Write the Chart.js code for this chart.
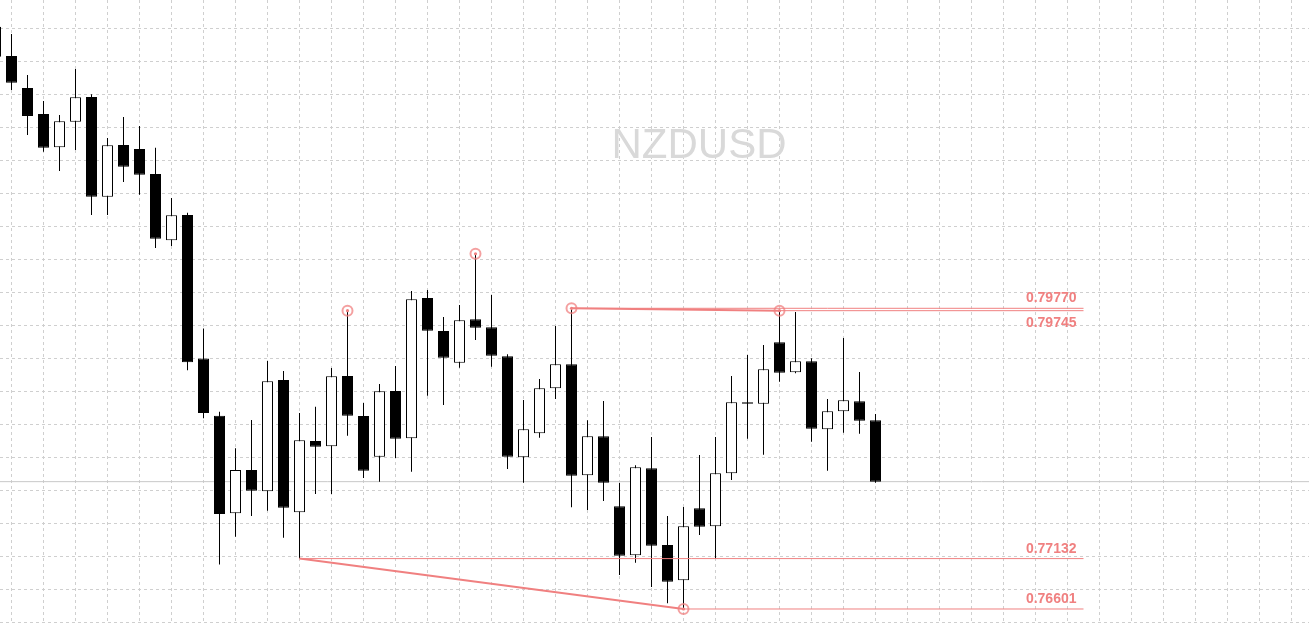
<!DOCTYPE html>
<html>
<head>
<meta charset="utf-8">
<script src="https://cdn.jsdelivr.net/npm/chart.js@4.4.1/dist/chart.umd.min.js"></script>
<style>
  html, body { margin: 0; padding: 0; background: #ffffff; overflow: hidden; }
  #wrap { position: relative; width: 1309px; height: 623px; }
</style>
</head>
<body>
<div id="wrap"><canvas id="c"></canvas></div>
<script>
// ---- Data (NZDUSD candles) ----
const candleIndex = [0,1,2,3,4,5,6,7,8,9,10,11,12,13,14,15,16,17,18,19,20,21,22,23,24,25,26,27,
  28,29,30,31,32,33,34,35,36,37,38,39,40,41,42,43,44,45,46,47,48,49,50,51,52,53,54,55];
const openPrices = [0.82738,0.82429,0.82092,0.81818,0.81467,0.81737,0.81997,0.80946,0.81491,0.81449,
  0.81185,0.80487,0.80753,0.79242,0.78637,0.77610,0.78066,0.77841,0.79014,0.77620,
  0.78372,0.78316,0.79057,0.78635,0.78206,0.78898,0.78400,0.79879,0.79531,0.79197,
  0.79654,0.79570,0.79264,0.78200,0.78453,0.78927,0.79180,0.78010,0.78421,0.77683,
  0.77167,0.78084,0.77275,0.76903,0.77662,0.77473,0.78031,0.78779,0.78765,0.79412,
  0.79096,0.79211,0.78495,0.78685,0.78790,0.78590];
const highPrices = [0.82808,0.82661,0.82229,0.81955,0.81807,0.82292,0.82025,0.81565,0.81786,0.81691,
  0.81463,0.80932,0.80778,0.79556,0.78681,0.78295,0.78593,0.79215,0.79109,0.78667,
  0.78733,0.79141,0.79745,0.78772,0.78972,0.79162,0.79952,0.79963,0.79678,0.79805,
  0.80345,0.79910,0.79285,0.78804,0.79025,0.79584,0.79770,0.78590,0.78793,0.77929,
  0.78115,0.78414,0.77581,0.77676,0.78224,0.78414,0.79057,0.79278,0.79383,0.79745,
  0.79731,0.79243,0.78814,0.79457,0.79099,0.78656];
const lowPrices = [0.82387,0.82071,0.81596,0.81420,0.81217,0.81438,0.80753,0.80753,0.81101,0.80967,
  0.80406,0.80427,0.79117,0.78612,0.77070,0.77363,0.77581,0.77637,0.77352,0.77132,
  0.77813,0.77813,0.78427,0.77982,0.77943,0.78192,0.78048,0.78849,0.78751,0.79144,
  0.79436,0.79155,0.78076,0.77932,0.78406,0.78814,0.77673,0.77644,0.77739,0.76959,
  0.77089,0.76833,0.76661,0.76601,0.77381,0.77130,0.77960,0.78396,0.78227,0.78996,
  0.79085,0.78364,0.78059,0.78459,0.78448,0.77932];
const closePrices = [0.82422,0.82148,0.81797,0.81463,0.81741,0.81994,0.80946,0.81488,0.81262,0.81178,
  0.80504,0.80750,0.79202,0.78667,0.77602,0.78066,0.77848,0.79001,0.77669,0.78379,
  0.78311,0.79053,0.78638,0.78059,0.78895,0.78396,0.79865,0.79534,0.79249,0.79644,
  0.79566,0.79271,0.78206,0.78495,0.78927,0.79180,0.78006,0.78421,0.77932,0.77163,
  0.78094,0.77268,0.76889,0.77473,0.77468,0.78031,0.78779,0.78765,0.79127,0.79091,
  0.79211,0.78501,0.78685,0.78800,0.78585,0.77943];

const symbolName = "NZDUSD";
const bidPrice = 0.77943;

// horizontal levels with their start candle and label
const levelPrices = [0.79770, 0.79745, 0.77132, 0.76601];
const levelStartIndex = [36, 49, 19, 43];
const levelLabels = ["0.79770", "0.79745", "0.77132", "0.76601"];
const levelLabelBelow = [false, true, false, false];
const levelEndIndex = 68;

// trend lines (pairs of candle index / price)
const resistanceIdx = [36, 49];
const resistancePrice = [0.79770, 0.79745];
const supportIdx = [19, 43];
const supportPrice = [0.77132, 0.76601];

// pivot markers
const pivotIdx = [22, 30, 36, 49, 43];
const pivotPrice = [0.79745, 0.80345, 0.79770, 0.79745, 0.76601];

// ---- axis ranges ----
const X_MIN = 0.28125, X_MAX = 0.28125 + 1309 / 16;
const Y_MAX = 0.830192, Y_MIN = 0.764534;
const GRID_Y_START = 0.827210, GRID_Y_STEP = 0.0034779;

const RED = '#f08080';

const wickData = candleIndex.map((x, i) => ({ x: x, y: [lowPrices[i], highPrices[i]] }));
const bodyData = candleIndex.map((x, i) => ({ x: x, y: [openPrices[i], closePrices[i]] }));

const datasets = [];
// bid line
datasets.push({
  type: 'line', order: 6,
  data: [{ x: X_MIN, y: bidPrice }, { x: X_MAX, y: bidPrice }],
  borderColor: '#c8c8c8', borderWidth: 1, pointRadius: 0, fill: false
});
// wicks
datasets.push({
  type: 'bar', order: 5, grouped: false,
  data: wickData, barThickness: 1, backgroundColor: '#000000',
  borderWidth: 0, inflateAmount: 0
});
// bodies
datasets.push({
  type: 'bar', order: 4, grouped: false,
  data: bodyData, barThickness: 11,
  backgroundColor: (ctx) => {
    const i = ctx.dataIndex;
    return closePrices[i] > openPrices[i] ? '#ffffff' : '#000000';
  },
  borderColor: '#000000', borderWidth: 1, borderSkipped: false, inflateAmount: 0
});
// level lines
levelPrices.forEach((p, k) => {
  datasets.push({
    type: 'line', order: 3,
    data: [{ x: levelStartIndex[k], y: p }, { x: levelEndIndex, y: p }],
    borderColor: RED, borderWidth: 1, pointRadius: 0, fill: false
  });
});
// trend lines
datasets.push({
  type: 'line', order: 2,
  data: resistanceIdx.map((x, i) => ({ x: x, y: resistancePrice[i] })),
  borderColor: RED, borderWidth: 2, pointRadius: 0, fill: false
});
datasets.push({
  type: 'line', order: 2,
  data: supportIdx.map((x, i) => ({ x: x, y: supportPrice[i] })),
  borderColor: RED, borderWidth: 2, pointRadius: 0, fill: false
});
// pivot markers: rings and dots
datasets.push({
  type: 'scatter', order: 1,
  data: pivotIdx.map((x, i) => ({ x: x, y: pivotPrice[i] })),
  pointStyle: 'circle', pointRadius: 5, pointBorderWidth: 2,
  pointBorderColor: 'rgba(240,128,128,0.75)', pointBackgroundColor: 'rgba(255,255,255,0)'
});
datasets.push({
  type: 'scatter', order: 0,
  data: pivotIdx.map((x, i) => ({ x: x, y: pivotPrice[i] })),
  pointStyle: 'circle', pointRadius: 1.6, pointBorderWidth: 0,
  pointBackgroundColor: RED, pointBorderColor: RED
});

const overlayPlugin = {
  id: 'overlay',
  beforeDatasetsDraw(chart) {
    const ctx = chart.ctx;
    ctx.save();
    ctx.font = '42px "Liberation Sans", Arial, sans-serif';
    ctx.fillStyle = '#d9d9d9';
    ctx.textAlign = 'center';
    ctx.textBaseline = 'alphabetic';
    ctx.fillText(symbolName, 699, 158);
    ctx.restore();
  },
  afterDatasetsDraw(chart) {
    const ctx = chart.ctx;
    const xs = chart.scales.x, ys = chart.scales.y;
    ctx.save();
    ctx.font = 'bold 14px "Liberation Sans", Arial, sans-serif';
    ctx.fillStyle = RED;
    ctx.textAlign = 'right';
    ctx.textBaseline = 'alphabetic';
    const xr = xs.getPixelForValue(levelEndIndex) - 7;
    levelPrices.forEach((p, k) => {
      const y = ys.getPixelForValue(p);
      ctx.fillText(levelLabels[k], xr, levelLabelBelow[k] ? y + 16 : y - 6);
    });
    ctx.restore();
  }
};

const gridOpts = { color: '#cfcfcf', lineWidth: 1, drawTicks: false, borderDash: [3, 3] };
const borderOpts = { display: false, dash: [3, 3] };

new Chart(document.getElementById('c'), {
  type: 'bar',
  data: { datasets: datasets },
  plugins: [overlayPlugin],
  options: {
    responsive: true,
    maintainAspectRatio: false,
    animation: false,
    events: [],
    layout: { padding: 0, autoPadding: false },
    plugins: { legend: { display: false }, tooltip: { enabled: false } },
    scales: {
      x: {
        type: 'linear', min: X_MIN, max: X_MAX, offset: false,
        grid: gridOpts, border: borderOpts,
        ticks: { display: false },
        afterBuildTicks(scale) {
          const t = [];
          for (let v = 2; v <= X_MAX; v += 2) t.push({ value: v });
          scale.ticks = t;
        }
      },
      y: {
        type: 'linear', min: Y_MIN, max: Y_MAX,
        grid: gridOpts, border: borderOpts,
        ticks: { display: false },
        afterBuildTicks(scale) {
          const t = [];
          for (let v = GRID_Y_START; v > Y_MIN; v -= GRID_Y_STEP) t.push({ value: v });
          scale.ticks = t;
        }
      }
    }
  }
});
</script>
</body>
</html>
